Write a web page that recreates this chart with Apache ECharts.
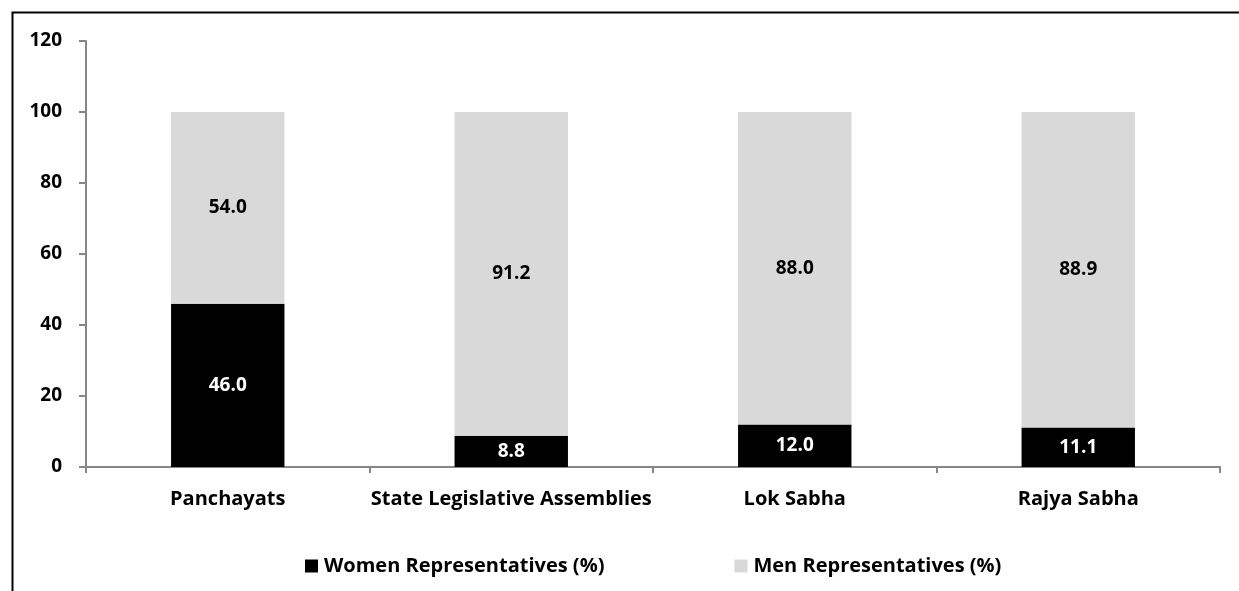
<!DOCTYPE html>
<html>
<head>
<meta charset="utf-8">
<script src="https://cdn.jsdelivr.net/npm/echarts@6/dist/echarts.min.js"></script>
<style>
  html, body { margin: 0; padding: 0; background: #fff; }
  #chart { width: 1239px; height: 591px; }
</style>
</head>
<body>
<div id="chart"></div>
<script>
// Share of women and men among elected representatives, by body
const categories = ['Panchayats', 'State Legislative Assemblies', 'Lok Sabha', 'Rajya Sabha'];
const womenValues = [46.0, 8.8, 12.0, 11.1];
const menValues = [54.0, 91.2, 88.0, 88.9];
const seriesNames = ['Women Representatives (%)', 'Men Representatives (%)'];
const yTicks = [0, 20, 40, 60, 80, 100, 120];

const FONT = '"Open Sans", "Noto Sans", sans-serif';
const chart = echarts.init(document.getElementById('chart'), null, { renderer: 'canvas' });

const labelStyle = (color) => ({
  show: true,
  position: 'inside',
  color: color,
  fontFamily: FONT,
  fontWeight: 'bold',
  fontSize: 19,
  formatter: (p) => p.value.toFixed(1)
});

chart.setOption({
  animation: false,
  backgroundColor: '#ffffff',
  graphic: [{
    type: 'rect',
    left: 10, top: 10,
    shape: { width: 1260, height: 620 },
    style: { fill: 'none', stroke: '#000', lineWidth: 2 },
    silent: true
  }],
  grid: { left: 86, right: 19, top: 41, bottom: 124, containLabel: false },
  legend: {
    data: seriesNames,
    top: 551,
    left: 300,
    itemWidth: 13,
    itemHeight: 13,
    itemGap: 130,
    icon: 'rect',
    textStyle: { fontFamily: FONT, fontWeight: 'bold', fontSize: 20, color: '#000', padding: [0, 0, 0, 1] }
  },
  xAxis: {
    type: 'category',
    data: categories,
    axisLine: { lineStyle: { color: '#868686', width: 2 } },
    axisTick: { show: true, length: 6, lineStyle: { color: '#868686', width: 2 } },
    axisLabel: { interval: 0, fontFamily: FONT, fontWeight: 'bold', fontSize: 20, color: '#000', margin: 22 }
  },
  yAxis: {
    type: 'value',
    min: 0, max: 120, interval: 20,
    axisLine: { show: true, lineStyle: { color: '#868686', width: 2 } },
    axisTick: { show: true, length: 7, lineStyle: { color: '#868686', width: 2 } },
    splitLine: { show: false },
    axisLabel: {
      fontFamily: FONT, fontWeight: 'bold', fontSize: 19, color: '#000', margin: 24,
      formatter: (v) => yTicks.includes(v) ? String(v) : ''
    }
  },
  series: [
    {
      name: seriesNames[0],
      type: 'bar',
      stack: 'total',
      barWidth: '40%',
      data: womenValues,
      itemStyle: { color: '#000000' },
      label: labelStyle('#ffffff')
    },
    {
      name: seriesNames[1],
      type: 'bar',
      stack: 'total',
      barWidth: '40%',
      data: menValues,
      itemStyle: { color: '#d9d9d9' },
      label: labelStyle('#000000')
    }
  ]
});
</script>
</body>
</html>
